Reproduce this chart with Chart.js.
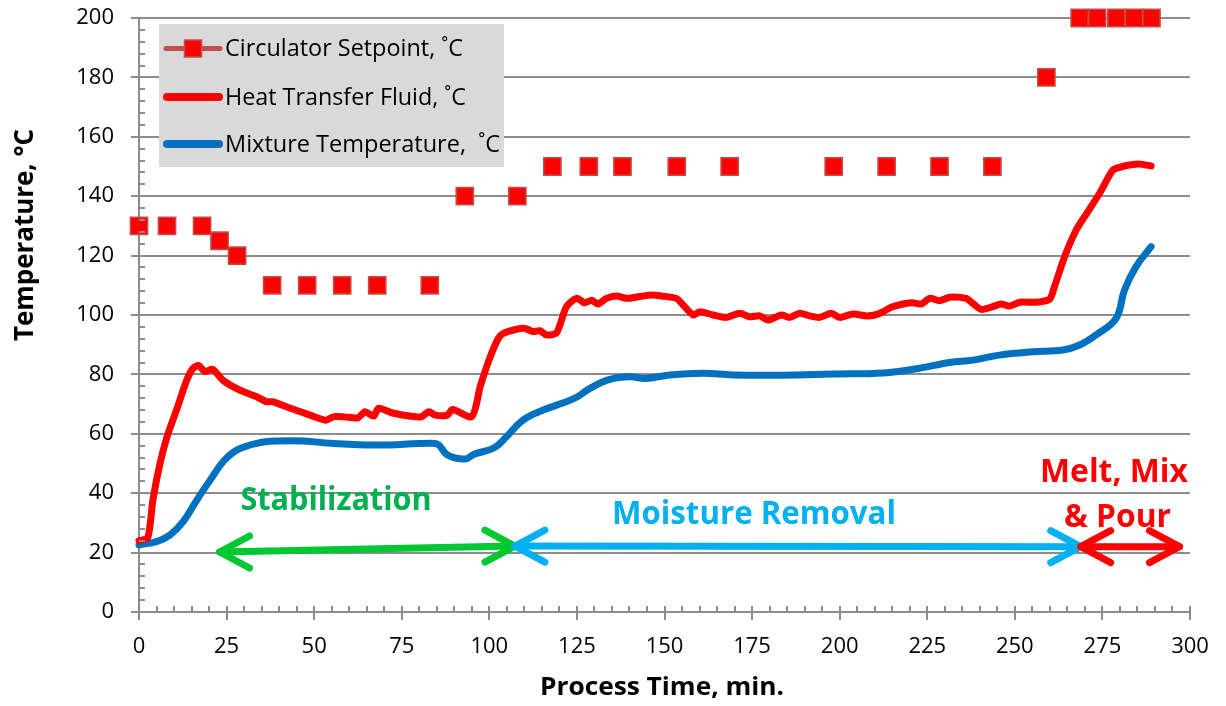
<!DOCTYPE html>
<html><head><meta charset="utf-8">
<script src="https://cdn.jsdelivr.net/npm/chart.js@4.4.1/dist/chart.umd.min.js"></script>
<style>html,body{margin:0;padding:0;background:#fff;}#wrap{width:1226px;height:706px;position:relative;}</style>
</head><body><div id="wrap"><canvas id="c" width="1226" height="706"></canvas></div>
<script>
// ---------- DATA ----------
const seriesNames = ['Circulator Setpoint, ˚C', 'Heat Transfer Fluid, ˚C', 'Mixture Temperature,  ˚C'];

const spTime = [0, 8, 18, 23, 28, 38, 48, 58, 68, 83, 93, 108, 118, 128.4, 138, 153.5, 168.6, 198.3, 213.4, 228.5, 243.6, 259, 268.5, 273.5, 279, 284, 289];
const spTemp = [130, 130, 130, 125, 120, 110, 110, 110, 110, 110, 140, 140, 150, 150, 150, 150, 150, 150, 150, 150, 150, 180, 200, 200, 200, 200, 200];

const htfTime = [0, 2.5, 4, 6, 8, 11, 13.6, 15.4, 17, 18.8, 21, 24, 28.8, 33.6, 36.4, 38, 43, 48.8, 53.3, 55.6, 58.6, 62.5, 64.5, 67, 68.4, 72.4, 78.3, 80.7, 82.7, 84.6, 88, 89.5, 95, 97.4, 99.9, 102.5, 104, 107.8, 110.1, 112.5, 114.4, 116.3, 119.2, 122, 124.9, 127.2, 129.2, 131, 133.4, 136.3, 139.1, 142.9, 146.3, 149.1, 153.4, 155.3, 158.2, 160.1, 163.9, 167.7, 171.5, 174.3, 177.2, 179.5, 183.4, 185.7, 188.6, 191.4, 194.3, 197.6, 200, 203.8, 207.6, 210, 212.4, 214.7, 218.1, 220.9, 223.3, 225.7, 228.5, 231.4, 236.1, 238, 240.4, 243.7, 246.1, 248.5, 251.4, 256.1, 259.9, 261.3, 264.2, 267.5, 269.9, 274.2, 278, 280.4, 282.7, 285.6, 288.9];
const htfTemp = [24, 25, 38, 50, 59, 69, 78, 82, 83, 81, 81.7, 78, 74.7, 72.5, 70.8, 70.8, 68.7, 66.3, 64.6, 65.8, 65.7, 65.4, 67.4, 66, 68.6, 67, 65.8, 65.8, 67.4, 66.3, 66.3, 68.2, 65.8, 75.9, 84.8, 92, 93.8, 95.2, 95.5, 94.4, 94.7, 93.3, 94, 102.8, 105.6, 104.1, 105, 103.7, 105.6, 106.4, 105.6, 106.2, 106.7, 106.4, 105.6, 103.4, 100, 101.1, 100, 99.2, 100.6, 99.4, 99.7, 98.3, 100, 99.2, 100.6, 99.7, 99.2, 100.6, 99.2, 100.3, 99.7, 100, 101.1, 102.6, 103.7, 104.1, 103.7, 105.6, 104.8, 106, 105.6, 103.9, 101.9, 102.8, 103.7, 103, 104.3, 104.3, 105.3, 109.5, 119.6, 128.6, 133.1, 141, 148.8, 149.9, 150.5, 150.8, 150.2];

const mixTime = [0, 5, 8.8, 12.6, 16.5, 20.3, 24, 27.9, 33.6, 40.2, 46.9, 54.6, 67.4, 83.5, 85.5, 88, 93, 95.6, 101.4, 104.9, 109.6, 115.4, 120.1, 124.9, 128.7, 134.4, 140.1, 144.4, 151.5, 161, 169.6, 183.8, 198.1, 212.4, 221.9, 231.4, 238, 245.6, 255.2, 263.7, 268.5, 273.2, 278.9, 281.3, 284.6, 288.9];
const mixTemp = [22.6, 23.7, 25.9, 30.4, 37.7, 44.4, 50.6, 54.5, 56.8, 57.6, 57.6, 56.8, 56.2, 56.8, 56.3, 52.9, 51.5, 53.1, 55.3, 59, 64.6, 68, 70, 72.3, 75.3, 78.3, 79.2, 78.6, 79.8, 80.4, 79.8, 79.7, 80.1, 80.5, 81.9, 84, 84.8, 86.5, 87.6, 88.2, 89.9, 93.3, 98.9, 108.4, 116.3, 123];

const yTickValues = [0, 20, 40, 60, 80, 100, 120, 140, 160, 180, 200];
const xTickValues = [0, 25, 50, 75, 100, 125, 150, 175, 200, 225, 250, 275, 300];

const phaseNames = ['Stabilization', 'Moisture Removal', 'Melt, Mix', '& Pour'];
const phaseBounds = [23, 107.3, 268.8, 297];   // minutes at arrow tips
const phaseLevels = [20.2, 22.2, 22.0, 22.0];  // temperature level at the tips

const xTitle = 'Process Time, min.';
const yTitle = 'Temperature, °C';

// ---------- STYLE ----------
const GRID = '#8c8c8c';
const RED = '#ff0000', BLUE = '#0070c0', GREEN = '#00c832', LBLUE = '#00b0f0', SPBORDER = '#c0504d';
const FONT = '"Open Sans", "Liberation Sans", sans-serif';

function toPts(xs, ys) { return xs.map((v, i) => ({x: v, y: ys[i]})); }

function fitText(ctx, text, x, baseline, width, font, color, align) {
  ctx.save();
  ctx.font = font; ctx.fillStyle = color; ctx.textBaseline = 'alphabetic'; ctx.textAlign = 'left';
  const m = ctx.measureText(text).width;
  const s = width / m;
  ctx.translate(align === 'center' ? x - width / 2 : x, baseline);
  ctx.scale(s, 1);
  ctx.fillText(text, 0, 0);
  ctx.restore();
}

function arrow(ctx, x1, y1, x2, y2, color) {
  ctx.save();
  ctx.strokeStyle = color; ctx.lineWidth = 7; ctx.lineCap = 'round'; ctx.lineJoin = 'round';
  ctx.beginPath(); ctx.moveTo(x1, y1); ctx.lineTo(x2, y2); ctx.stroke();
  const head = (tx, ty, dir) => {
    ctx.beginPath();
    ctx.moveTo(tx - dir * 30, ty - 16); ctx.lineTo(tx, ty); ctx.lineTo(tx - dir * 30, ty + 16);
    ctx.stroke();
  };
  head(x1, y1, -1); head(x2, y2, 1);
  ctx.restore();
}

const decor = {
  id: 'decor',
  afterDatasetsDraw(chart) {
    const {ctx, scales: {x, y}} = chart;
    arrow(ctx, x.getPixelForValue(phaseBounds[0]), y.getPixelForValue(phaseLevels[0]), x.getPixelForValue(phaseBounds[1]), y.getPixelForValue(phaseLevels[1]), GREEN);
    arrow(ctx, x.getPixelForValue(phaseBounds[1]), y.getPixelForValue(phaseLevels[1]), x.getPixelForValue(phaseBounds[2]), y.getPixelForValue(phaseLevels[2]), LBLUE);
    arrow(ctx, x.getPixelForValue(phaseBounds[2]), y.getPixelForValue(phaseLevels[2]), x.getPixelForValue(phaseBounds[3]), y.getPixelForValue(phaseLevels[3]), RED);
    fitText(ctx, phaseNames[0], 336, 510, 191, 'bold 32px ' + FONT, '#00b050', 'center');
    fitText(ctx, phaseNames[1], 754, 524, 284, 'bold 33px ' + FONT, LBLUE, 'center');
    fitText(ctx, phaseNames[2], 1114, 482, 148, 'bold 33px ' + FONT, RED, 'center');
    fitText(ctx, phaseNames[3], 1117.5, 527, 107, 'bold 33px ' + FONT, RED, 'center');
  },
  afterDraw(chart) {
    const {ctx, chartArea: a, scales: {x, y}} = chart;
    ctx.save();
    ctx.strokeStyle = GRID; ctx.lineWidth = 2;
    ctx.beginPath();
    for (let v = 0; v <= 200; v += 4) { const py = Math.round(y.getPixelForValue(v)); ctx.moveTo(a.left, py); ctx.lineTo(a.left + 6, py); }
    for (let v = 0; v <= 300; v += 5) { const px = Math.round(x.getPixelForValue(v)); ctx.moveTo(px, a.bottom); ctx.lineTo(px, a.bottom - 6); }
    ctx.stroke();
    // legend
    ctx.fillStyle = '#d9d9d9'; ctx.fillRect(159, 24, 345, 143);
    const rows = [48.5, 97, 144];
    ctx.lineCap = 'round';
    ctx.strokeStyle = SPBORDER; ctx.lineWidth = 5;
    ctx.beginPath(); ctx.moveTo(166, rows[0]); ctx.lineTo(220, rows[0]); ctx.stroke();
    ctx.fillStyle = RED; ctx.fillRect(184.5, rows[0] - 8.5, 17, 17);
    ctx.strokeStyle = SPBORDER; ctx.lineWidth = 1.5; ctx.strokeRect(184.5, rows[0] - 8.5, 17, 17);
    ctx.strokeStyle = RED; ctx.lineWidth = 8;
    ctx.beginPath(); ctx.moveTo(167, rows[1]); ctx.lineTo(219, rows[1]); ctx.stroke();
    ctx.strokeStyle = BLUE; ctx.lineWidth = 8;
    ctx.beginPath(); ctx.moveTo(167, rows[2]); ctx.lineTo(219, rows[2]); ctx.stroke();
    const lf = '24px ' + FONT;
    fitText(ctx, seriesNames[0], 225, 56, 238, lf, '#000', 'left');
    fitText(ctx, seriesNames[1], 225, 104.5, 241, lf, '#000', 'left');
    fitText(ctx, seriesNames[2], 225, 152, 275, lf, '#000', 'left');
    fitText(ctx, xTitle, 662, 695, 244, 'bold 25px ' + FONT, '#000', 'center');
    ctx.save();
    ctx.translate(33, 235); ctx.rotate(-Math.PI / 2);
    fitText(ctx, yTitle, 0, 0, 212, 'bold 27px ' + FONT, '#000', 'center');
    ctx.restore();
    ctx.restore();
  }
};

new Chart(document.getElementById('c'), {
  type: 'scatter',
  data: {
    datasets: [
      { label: seriesNames[0], data: toPts(spTime, spTemp), showLine: false, clip: false,
        pointStyle: 'rect', pointRadius: 12.2, pointHoverRadius: 12.2,
        backgroundColor: RED, borderColor: SPBORDER, borderWidth: 1.5, order: 0 },
      { label: seriesNames[1], data: toPts(htfTime, htfTemp), showLine: true, clip: false,
        borderColor: RED, borderWidth: 7, pointRadius: 0, tension: 0.25,
        borderCapStyle: 'round', borderJoinStyle: 'round', order: 1 },
      { label: seriesNames[2], data: toPts(mixTime, mixTemp), showLine: true, clip: false,
        borderColor: BLUE, borderWidth: 7, pointRadius: 0, tension: 0.4,
        borderCapStyle: 'round', borderJoinStyle: 'round', order: 2 }
    ]
  },
  options: {
    responsive: false, animation: false, devicePixelRatio: 1,
    layout: { padding: { left: 0, top: 18, right: 36, bottom: 0 } },
    plugins: { legend: { display: false }, tooltip: { enabled: false } },
    scales: {
      x: {
        type: 'linear', min: 0, max: 300,
        afterBuildTicks: s => { s.ticks = xTickValues.map(v => ({value: v})); },
        afterFit: s => { s.height = 94; s.paddingLeft = 0; s.paddingRight = 0; },
        grid: { drawOnChartArea: false, drawTicks: true, tickLength: 8, color: GRID, lineWidth: 2 },
        border: { color: GRID, width: 2 },
        ticks: { color: '#000', font: { family: FONT, size: 22 }, padding: 14, maxRotation: 0 }
      },
      y: {
        type: 'linear', min: 0, max: 200,
        afterBuildTicks: s => { s.ticks = yTickValues.map(v => ({value: v})); },
        afterFit: s => { s.width = 139; s.paddingTop = 0; s.paddingBottom = 0; },
        grid: { drawTicks: true, tickLength: 8, color: GRID, lineWidth: 2 },
        border: { color: GRID, width: 2 },
        ticks: { color: '#000', font: { family: FONT, size: 22 }, padding: 17 }
      }
    }
  },
  plugins: [decor]
});
</script></body></html>
